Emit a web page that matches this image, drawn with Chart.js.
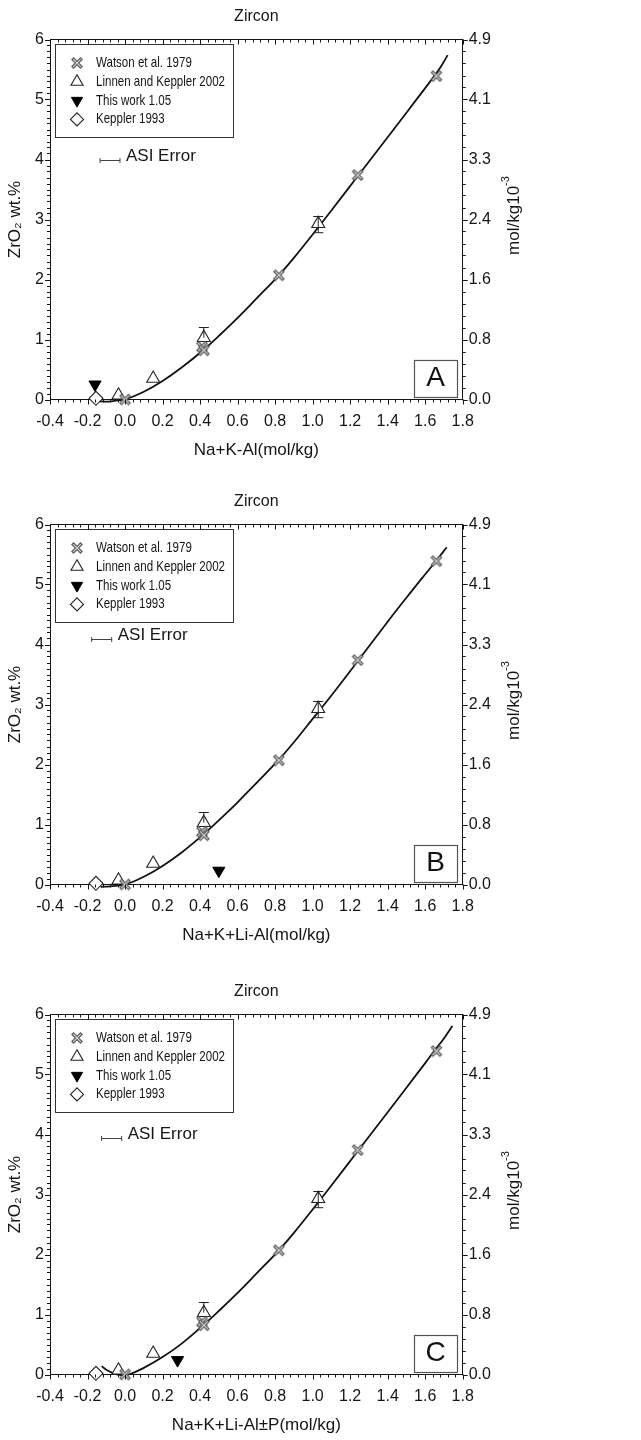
<!DOCTYPE html>
<html><head><meta charset="utf-8">
<script src="https://cdn.jsdelivr.net/npm/chart.js@4.4.1/dist/chart.umd.min.js"></script>
<style>
html,body{margin:0;padding:0;background:#fff;overflow:hidden;width:641px;height:1440px;}
.panel{position:absolute;left:0;width:641px;height:470px;}
canvas{display:block;}
</style></head><body>
<div class="panel" style="top:0px"><canvas id="c0" width="641" height="470"></canvas></div>
<div class="panel" style="top:485px"><canvas id="c1" width="641" height="470"></canvas></div>
<div class="panel" style="top:975px"><canvas id="c2" width="641" height="470"></canvas></div>
<script>
// ---------------- data ----------------
const chartTitle = 'Zircon';
const seriesLabels = ['Watson et al. 1979', 'Linnen and Keppler 2002', 'This work 1.05', 'Keppler 1993'];
const panelLetters = ['A', 'B', 'C'];
const xTitles = ['Na+K-Al(mol/kg)', 'Na+K+Li-Al(mol/kg)', 'Na+K+Li-Al\u00b1P(mol/kg)'];
const yTitle = 'ZrO\u2082 wt.%';
const rightTitleMain = 'mol/kg10';
const rightTitleSup = '-3';

const xTickValues = [-0.4, -0.2, 0.0, 0.2, 0.4, 0.6, 0.8, 1.0, 1.2, 1.4, 1.6, 1.8];
const xTickLabels = ['-0.4', '-0.2', '0.0', '0.2', '0.4', '0.6', '0.8', '1.0', '1.2', '1.4', '1.6', '1.8'];
const yTickValues = [0, 1, 2, 3, 4, 5, 6];
const yTickLabels = ['0', '1', '2', '3', '4', '5', '6'];
const y2TickLabels = ['0.0', '0.8', '1.6', '2.4', '3.3', '4.1', '4.9'];

// Watson et al. 1979 (same in all panels)
const watsonX = [0.00, 0.41, 0.42, 0.82, 1.24, 1.66];
const watsonY = [0.00, 0.88, 0.82, 2.07, 3.74, 5.39];
// Linnen and Keppler 2002
const linnenX = [-0.035, 0.15, 0.42, 1.03];
const linnenY = [0.07, 0.35, 1.03, 2.93];
const linnenErrLo = [null, null, null, 2.78];
const linnenErrHi = [null, null, 1.20, 3.05];
// Keppler 1993
const kepplerX = [-0.155];
const kepplerY = [0.02];
// This work 1.05 (one point per panel)
const thisWorkX = [-0.16, 0.50, 0.28];
const thisWorkY = [0.25, 0.23, 0.24];

// fitted curves
const curveAX = [-0.15, -0.10, -0.05, 0.00, 0.10, 0.20, 0.30, 0.42, 0.50, 0.60, 0.70, 0.82, 0.90, 1.00, 1.10, 1.24, 1.40, 1.50, 1.60, 1.66, 1.69, 1.72];
const curveAY = [-0.03, -0.035, -0.02, 0.00, 0.13, 0.31, 0.53, 0.83, 1.06, 1.36, 1.68, 2.07, 2.36, 2.75, 3.15, 3.72, 4.37, 4.78, 5.19, 5.44, 5.58, 5.74];
const curveBX = [-0.13, -0.08, 0.00, 0.10, 0.20, 0.30, 0.42, 0.50, 0.60, 0.70, 0.82, 0.90, 1.00, 1.10, 1.24, 1.40, 1.50, 1.60, 1.66, 1.715];
const curveBY = [-0.04, -0.03, 0.00, 0.13, 0.31, 0.53, 0.84, 1.07, 1.37, 1.69, 2.08, 2.37, 2.76, 3.15, 3.72, 4.38, 4.78, 5.17, 5.40, 5.62];
const curveCX = [-0.125, -0.10, -0.06, -0.02, 0.02, 0.10, 0.20, 0.30, 0.42, 0.50, 0.60, 0.70, 0.82, 0.90, 1.00, 1.10, 1.24, 1.40, 1.50, 1.60, 1.66, 1.70, 1.745];
const curveCY = [0.14, 0.08, 0.02, -0.01, 0.00, 0.11, 0.29, 0.51, 0.83, 1.06, 1.36, 1.68, 2.07, 2.36, 2.75, 3.15, 3.72, 4.37, 4.78, 5.19, 5.44, 5.60, 5.81];
const curvesX = [curveAX, curveBX, curveCX];
const curvesY = [curveAY, curveBY, curveCY];

// ASI error bar (per panel)
const asiLabel = 'ASI Error';
const asiX1 = [-0.133, -0.178, -0.125];
const asiX2 = [-0.027, -0.071, -0.018];
const asiY = [4.0, 4.09, 3.95];

// ---------------- style ----------------
const FONT = '"Liberation Sans", Arial, Helvetica, sans-serif';
const NARROW = '"Liberation Sans Narrow", "Arial Narrow", "Liberation Sans", Arial, sans-serif';
const INK = '#151515';

function makeXMarker() {
  const c = document.createElement('canvas');
  c.width = 14; c.height = 14;
  const g = c.getContext('2d');
  g.lineCap = 'butt';
  g.strokeStyle = '#5e5e5e'; g.lineWidth = 3.6;
  g.beginPath(); g.moveTo(2.3, 2.3); g.lineTo(11.7, 11.7); g.moveTo(11.7, 2.3); g.lineTo(2.3, 11.7); g.stroke();
  g.strokeStyle = '#d4d4d4'; g.lineWidth = 1.2;
  g.beginPath(); g.moveTo(3.2, 3.2); g.lineTo(10.8, 10.8); g.moveTo(10.8, 3.2); g.lineTo(3.2, 10.8); g.stroke();
  return c;
}
const xMarker = makeXMarker();

const markerStyles = [
  {pointStyle: xMarker, radius: 7, rotation: 0, fill: '#888', stroke: '#555', bw: 0},
  {pointStyle: 'triangle', radius: 7.5, rotation: 0, fill: '#ffffff', stroke: '#222', bw: 1.1},
  {pointStyle: 'triangle', radius: 7, rotation: 180, fill: '#000000', stroke: '#000', bw: 1},
  {pointStyle: 'rectRot', radius: 7, rotation: 0, fill: '#ffffff', stroke: '#222', bw: 1.1}
];

function pts(xs, ys) { return xs.map((x, i) => ({x: x, y: ys[i]})); }

function line(ctx, x1, y1, x2, y2) { ctx.beginPath(); ctx.moveTo(x1, y1); ctx.lineTo(x2, y2); ctx.stroke(); }

const decorPlugin = {
  id: 'decor',
  afterDraw(chart, args, opts) {
    const p = opts.panel;
    const ctx = chart.ctx;
    const a = chart.chartArea;
    const xs = chart.scales.x, ys = chart.scales.y;
    ctx.save();
    // ---- axis ticks (major + minor) ----
    ctx.strokeStyle = INK; ctx.lineWidth = 1;
    for (let i = 0; i <= 55; i++) {
      const v = xTickValues[0] + i * 0.04;
      const px = Math.round(xs.getPixelForValue(v)) + 0.5;
      const L = (i % 5 === 0) ? 5 : 3;
      line(ctx, px, a.bottom, px, a.bottom + L);
      line(ctx, px, a.top, px, a.top + L);
    }
    for (let i = 0; i <= 60; i++) {
      const v = i * 0.1;
      const py = Math.round(ys.getPixelForValue(v)) + 0.5;
      const L = (i % 10 === 0) ? 5 : 3;
      line(ctx, a.left - L, py, a.left, py);
      if (i % 2 === 0) line(ctx, a.right, py, a.right + ((i % 10 === 0) ? 5 : 3), py);
    }
    // ---- error bars on Linnen and Keppler points ----
    ctx.strokeStyle = '#222'; ctx.lineWidth = 1;
    linnenX.forEach((x, i) => {
      const px = xs.getPixelForValue(x);
      const pyv = ys.getPixelForValue(linnenY[i]);
      const hi = linnenErrHi[i], lo = linnenErrLo[i];
      if (hi !== null) {
        const ph = ys.getPixelForValue(hi);
        line(ctx, px, pyv, px, ph);
        line(ctx, px - 5, ph, px + 5, ph);
      }
      if (lo !== null) {
        const pl = ys.getPixelForValue(lo);
        line(ctx, px, pyv, px, pl);
        line(ctx, px - 5, pl, px + 5, pl);
      }
    });
    // ---- ASI error ----
    const ax1 = xs.getPixelForValue(asiX1[p]), ax2 = xs.getPixelForValue(asiX2[p]);
    const ay = Math.round(ys.getPixelForValue(asiY[p])) + 0.5;
    ctx.strokeStyle = '#444'; ctx.lineWidth = 1;
    line(ctx, ax1, ay, ax2, ay);
    line(ctx, ax1, ay - 2.5, ax1, ay + 2.5);
    line(ctx, ax2, ay - 2.5, ax2, ay + 2.5);
    ctx.fillStyle = INK;
    ctx.font = '17px ' + FONT;
    ctx.textAlign = 'left'; ctx.textBaseline = 'middle';
    ctx.fillText(asiLabel, ax2 + 6, ay - 4);
    // ---- legend box ----
    const lx1 = a.left + 5, ly1 = a.top + 4.5, lx2 = a.left + 183, ly2 = a.top + 97.5;
    ctx.strokeStyle = '#333'; ctx.lineWidth = 1;
    ctx.strokeRect(Math.round(lx1) + 0.5, Math.round(ly1) + 0.5, Math.round(lx2 - lx1), Math.round(ly2 - ly1));
    ctx.font = '14.5px ' + NARROW;
    let maxW = 0;
    seriesLabels.forEach(t => { maxW = Math.max(maxW, ctx.measureText(t).width); });
    const sx = Math.min(1, 129 / maxW);
    seriesLabels.forEach((t, i) => {
      const ry = a.top + 23.5 + i * 18.8;
      const ms = markerStyles[i];
      ctx.fillStyle = ms.fill; ctx.strokeStyle = ms.stroke; ctx.lineWidth = ms.bw;
      Chart.helpers.drawPoint(ctx, {pointStyle: ms.pointStyle, rotation: ms.rotation, radius: ms.radius - 0.5, borderWidth: ms.bw}, a.left + 27, ry);
      ctx.save();
      ctx.translate(a.left + 46, ry);
      ctx.scale(sx, 1);
      ctx.fillStyle = INK; ctx.textAlign = 'left'; ctx.textBaseline = 'middle';
      ctx.font = '14.5px ' + NARROW;
      ctx.fillText(t, 0, 0);
      ctx.restore();
    });
    // ---- panel letter box ----
    const bx1 = a.left + 364, by1 = a.top + 320, bx2 = a.left + 407, by2 = a.top + 356.5;
    ctx.strokeStyle = '#555'; ctx.lineWidth = 1.2;
    ctx.strokeRect(Math.round(bx1) + 0.5, Math.round(by1) + 0.5, Math.round(bx2 - bx1), Math.round(by2 - by1));
    ctx.fillStyle = '#111'; ctx.font = '28px ' + FONT;
    ctx.textAlign = 'center'; ctx.textBaseline = 'middle';
    ctx.fillText(panelLetters[p], (bx1 + bx2) / 2, (by1 + by2) / 2 + 1);
    // ---- right axis title (rotated, reading upward) ----
    ctx.save();
    ctx.translate(514, (a.top + a.bottom) / 2 - 4);
    ctx.rotate(-Math.PI / 2);
    ctx.font = '17px ' + FONT;
    const wm = ctx.measureText(rightTitleMain).width;
    ctx.font = '11px ' + FONT;
    const wsup = ctx.measureText(rightTitleSup).width;
    const start = -(wm + wsup) / 2;
    ctx.fillStyle = INK; ctx.textAlign = 'left'; ctx.textBaseline = 'middle';
    ctx.font = '17px ' + FONT;
    ctx.fillText(rightTitleMain, start, 0);
    ctx.font = '11px ' + FONT;
    ctx.fillText(rightTitleSup, start + wm, -8);
    ctx.restore();
    ctx.restore();
  }
};

function makeChart(p) {
  const ms = markerStyles;
  const datasets = [
    {label: 'curve', data: pts(curvesX[p], curvesY[p]), showLine: true, borderColor: '#111', borderWidth: 1.8,
     pointRadius: 0, tension: 0.4, fill: false, order: 5, clip: false},
    {label: seriesLabels[1], data: pts(linnenX, linnenY), pointStyle: ms[1].pointStyle, pointRadius: ms[1].radius,
     backgroundColor: ms[1].fill, borderColor: ms[1].stroke, borderWidth: ms[1].bw, showLine: false, order: 4, clip: false},
    {label: seriesLabels[0], data: pts(watsonX, watsonY), pointStyle: ms[0].pointStyle, pointRadius: ms[0].radius,
     backgroundColor: ms[0].fill, borderColor: ms[0].stroke, borderWidth: 0, showLine: false, order: 3, clip: false},
    {label: seriesLabels[3], data: pts(kepplerX, kepplerY), pointStyle: ms[3].pointStyle, pointRadius: ms[3].radius,
     backgroundColor: ms[3].fill, borderColor: ms[3].stroke, borderWidth: ms[3].bw, showLine: false, order: 2, clip: false},
    {label: seriesLabels[2], data: [{x: thisWorkX[p], y: thisWorkY[p]}], pointStyle: ms[2].pointStyle, pointRadius: ms[2].radius,
     pointRotation: 180, backgroundColor: ms[2].fill, borderColor: ms[2].stroke, borderWidth: ms[2].bw, showLine: false, order: 1, clip: false}
  ];
  const tickFont = {family: FONT, size: 16};
  const border = {display: true, color: INK, width: 1};
  new Chart(document.getElementById('c' + p), {
    type: 'scatter',
    data: {datasets: datasets},
    plugins: [decorPlugin],
    options: {
      responsive: false, animation: false, devicePixelRatio: 1,
      layout: {padding: 0},
      events: [],
      plugins: {
        legend: {display: false},
        tooltip: {enabled: false},
        title: {display: true, text: chartTitle, fullSize: false, color: INK,
                font: {family: FONT, size: 16, weight: 'normal'}, padding: {top: 7, bottom: 2}},
        decor: {panel: p}
      },
      scales: {
        x: {
          type: 'linear', position: 'bottom', min: -0.4, max: 1.8,
          afterBuildTicks: s => { s.ticks = xTickValues.map(v => ({value: v})); },
          afterFit: s => { s.height = 70.5; },
          ticks: {callback: (v, i) => xTickLabels[i], font: tickFont, color: INK, padding: 12, maxRotation: 0, autoSkip: false},
          grid: {display: false, drawTicks: false}, border: border,
          title: {display: true, text: xTitles[p], color: INK, font: {family: FONT, size: 17}, padding: {top: 0, bottom: 9}}
        },
        x2: {
          type: 'linear', position: 'top', min: -0.4, max: 1.8,
          afterFit: s => { s.height = 11.3; },
          ticks: {display: false}, grid: {display: false, drawTicks: false}, border: border
        },
        y: {
          type: 'linear', position: 'left', min: 0, max: 6,
          afterBuildTicks: s => { s.ticks = yTickValues.map(v => ({value: v})); },
          afterFit: s => { s.width = 50; },
          ticks: {callback: (v, i) => yTickLabels[i], font: tickFont, color: INK, padding: 6, autoSkip: false},
          grid: {display: false, drawTicks: false}, border: border,
          title: {display: true, text: yTitle, color: INK, font: {family: FONT, size: 17}, padding: {top: 5, bottom: 0}}
        },
        y2: {
          type: 'linear', position: 'right', min: 0, max: 6,
          afterBuildTicks: s => { s.ticks = yTickValues.map(v => ({value: v})); },
          afterFit: s => { s.width = 178.3; },
          ticks: {callback: (v, i) => y2TickLabels[i], font: tickFont, color: INK, padding: 6, autoSkip: false},
          grid: {display: false, drawTicks: false}, border: border
        }
      }
    }
  });
}
[0, 1, 2].forEach(makeChart);
</script>
</body></html>
